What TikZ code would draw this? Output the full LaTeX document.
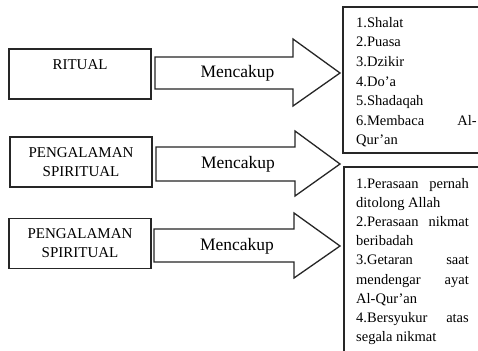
\documentclass[tikz,border=0pt]{standalone}
\usepackage{fontspec}
\setmainfont{Liberation Serif}
\begin{document}
\begin{tikzpicture}[x=1pt,y=-1pt,
  leftbox/.style={draw=black!85, line width=1.6pt, minimum width=142pt, minimum height=50pt, inner sep=0pt},
  rightbox/.style={draw=black!85, line width=1.3pt},
  blockarrow/.style={draw=black!85, line width=1.3pt, line join=miter},
  boxtxt/.style={font=\fontsize{15}{19}\selectfont, align=center, inner sep=0pt},
  arrtxt/.style={font=\fontsize{17.5}{20}\selectfont, inner sep=0pt},
  ltxt/.style={font=\fontsize{14.5}{19}\selectfont, inner sep=0pt, anchor=base west},
  rtxt/.style={font=\fontsize{14.5}{19}\selectfont, inner sep=0pt, anchor=base east}]
\useasboundingbox (0,0) rectangle (478,350);
\clip (0,0) rectangle (478,350);
\fill[white] (0,0) rectangle (478,350);

% left boxes
\node[leftbox] (b1) at (80,74) {};
\node[boxtxt] (t1) at (80,65) {RITUAL};
\node[leftbox] (b2) at (81,162) {};
\node[boxtxt] (t2) at (81,162.5) {PENGALAMAN\\SPIRITUAL};
\node[leftbox] (b3) at (80,243.5) {};
\node[boxtxt] (t3) at (80,243.5) {PENGALAMAN\\SPIRITUAL};

% block arrows
\draw[blockarrow] (155,57) -- (293,57) -- (293,39) -- (340,73) -- (293,106) -- (293,89) -- (155,89) -- cycle;
\node[arrtxt] (m1) at (237.5,73) {Mencakup};
\draw[blockarrow] (156,147) -- (295,147) -- (295,131) -- (340,164) -- (295,196) -- (295,181) -- (156,181) -- cycle;
\node[arrtxt] (m2) at (238,164) {Mencakup};
\draw[blockarrow] (154,229) -- (294,229) -- (294,213) -- (340,246) -- (294,278) -- (294,262) -- (154,262) -- cycle;
\node[arrtxt] (m3) at (237,246) {Mencakup};

% right boxes
\draw[rightbox] (343,7) rectangle (495,153);
\draw[rightbox] (344,167) rectangle (495,365);

% list 1
\node[ltxt] (a1) at (356,27.5) {1.Shalat};
\node[ltxt] (a2) at (356,47) {2.Puasa};
\node[ltxt] (a3) at (356,66.5) {3.Dzikir};
\node[ltxt] (a4) at (356,86) {4.Do’a};
\node[ltxt] (a5) at (356,105.5) {5.Shadaqah};
\node[ltxt] (a6) at (356,125) {6.Membaca};
\node[rtxt] (a6r) at (477,125) {Al-};
\node[ltxt] (a7) at (356,144.5) {Qur’an};

% list 2
\node[ltxt] (c1) at (356,188) {1.Perasaan};
\node[rtxt] (c1r) at (469,188) {pernah};
\node[ltxt] (c2) at (356,207.2) {ditolong Allah};
\node[ltxt] (c3) at (356,226.4) {2.Perasaan};
\node[rtxt] (c3r) at (469,226.4) {nikmat};
\node[ltxt] (c4) at (356,245.6) {beribadah};
\node[ltxt] (c5) at (356,264.8) {3.Getaran};
\node[rtxt] (c5r) at (469,264.8) {saat};
\node[ltxt] (c6) at (356,284) {mendengar};
\node[rtxt] (c6r) at (469,284) {ayat};
\node[ltxt] (c7) at (356,303.2) {Al-Qur’an};
\node[ltxt] (c8) at (356,322.4) {4.Bersyukur};
\node[rtxt] (c8r) at (469,322.4) {atas};
\node[ltxt] (c9) at (356,341.6) {segala nikmat};
\end{tikzpicture}
\end{document}
